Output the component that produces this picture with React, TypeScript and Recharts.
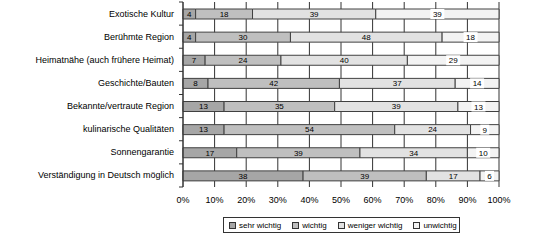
import { BarChart, Bar, XAxis, YAxis, CartesianGrid, LabelList } from "recharts";

const categories = [
  "Exotische Kultur",
  "Berühmte Region",
  "Heimatnähe (auch frühere Heimat)",
  "Geschichte/Bauten",
  "Bekannte/vertraute Region",
  "kulinarische Qualitäten",
  "Sonnengarantie",
  "Verständigung in Deutsch möglich",
];
const sehrWichtig = [4, 4, 7, 8, 13, 13, 17, 38];
const wichtig = [18, 30, 24, 42, 35, 54, 39, 39];
const wenigerWichtig = [39, 48, 40, 37, 39, 24, 34, 17];
const unwichtig = [39, 18, 29, 14, 13, 9, 10, 6];
const xTicks = [0, 0.1, 0.2, 0.3, 0.4, 0.5, 0.6, 0.7, 0.8, 0.9, 1];

const series = [
  { key: "sehr", name: "sehr wichtig", fill: "#a6a6a6", values: sehrWichtig },
  { key: "wichtig", name: "wichtig", fill: "#bfbfbf", values: wichtig },
  { key: "weniger", name: "weniger wichtig", fill: "#e2e2e2", values: wenigerWichtig },
  { key: "un", name: "unwichtig", fill: "#f3f3f3", values: unwichtig },
];

const data = categories.map((name, i) => {
  const row: Record<string, any> = { name };
  series.forEach((s) => (row[s.key] = s.values[i]));
  return row;
});

const FONT = "Liberation Sans, Arial, sans-serif";
const BAND = 185 / categories.length;

function CategoryTick(props: any) {
  const { x, y, payload, index } = props;
  const last = index === categories.length - 1;
  return (
    <g>
      <text x={x} y={y} dy={3} textAnchor="end" fontSize={9} fontFamily={FONT} fill="#000">
        {payload.value}
      </text>
      <line x1={x + 5} x2={x + 9} y1={y - BAND / 2} y2={y - BAND / 2} stroke="#333" />
      {last && <line x1={x + 5} x2={x + 9} y1={y + BAND / 2} y2={y + BAND / 2} stroke="#333" />}
    </g>
  );
}

function BoxLabel(props: any) {
  const { x, y, width, height, value } = props;
  const cx = x + width / 2;
  const cy = y + height / 2;
  const w = String(value).length * 5 + 4;
  return (
    <g>
      <rect x={cx - w / 2} y={cy - 5} width={w} height={10} fill="#fff" />
      <text x={cx} y={cy} dy={3} textAnchor="middle" fontSize={8} fontFamily={FONT} fill="#000">
        {value}
      </text>
    </g>
  );
}

export default function App() {
  return (
    <div style={{ position: "absolute", left: 0, top: 0, width: 546, height: 240, background: "#fff" }}>
      <BarChart
        width={546}
        height={240}
        data={data}
        layout="vertical"
        stackOffset="expand"
        barSize={10}
        margin={{ top: 2, right: 47, bottom: 39, left: 0 }}
      >
        <CartesianGrid horizontal={false} stroke="#333" />
        <XAxis
          type="number"
          domain={[0, 1]}
          ticks={xTicks}
          tickFormatter={(v: number) => `${Math.round(v * 100)}%`}
          axisLine={false}
          tickLine={false}
          height={14}
          tickMargin={4}
          interval={0}
          tick={{ fill: "#000", fontSize: 9, fontFamily: FONT }}
        />
        <YAxis
          type="category"
          dataKey="name"
          width={183}
          interval={0}
          tickLine={false}
          tickSize={0}
          tickMargin={9}
          axisLine={{ stroke: "#333" }}
          tick={<CategoryTick />}
        />
        {series.map((s, i) => (
          <Bar
            key={s.key}
            dataKey={s.key}
            name={s.name}
            stackId="a"
            fill={s.fill}
            stroke="#404040"
            strokeWidth={1}
            isAnimationActive={false}
          >
            {i === series.length - 1 ? (
              <LabelList dataKey={s.key} content={<BoxLabel />} />
            ) : (
              <LabelList
                dataKey={s.key}
                position="center"
                fontSize={8}
                fontFamily={FONT}
                fill="#000"
              />
            )}
          </Bar>
        ))}
      </BarChart>
      <div
        style={{
          position: "absolute",
          left: 223,
          top: 217,
          width: 230,
          height: 14,
          border: "1px solid #333",
          display: "flex",
          alignItems: "center",
          fontFamily: FONT,
          fontSize: 8,
          color: "#000",
          whiteSpace: "nowrap",
          gap: 11,
          paddingLeft: 5,
          boxSizing: "content-box",
        }}
      >
        {series.map((s) => (
          <div key={s.key} style={{ display: "flex", alignItems: "center", flexShrink: 0 }}>
            <span
              style={{
                display: "inline-block",
                width: 5,
                height: 5,
                border: "1px solid #333",
                background: s.fill,
                marginRight: 3,
              }}
            />
            <span>{s.name}</span>
          </div>
        ))}
      </div>
    </div>
  );
}
